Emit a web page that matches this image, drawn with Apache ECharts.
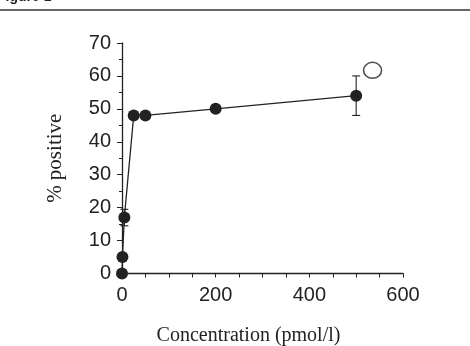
<!DOCTYPE html>
<html>
<head>
<meta charset="utf-8">
<script src="https://cdn.jsdelivr.net/npm/echarts@6/dist/echarts.min.js"></script>
<style>
  html, body { margin: 0; padding: 0; background: #fff; }
  #main { width: 470px; height: 346px; }
</style>
</head>
<body>
<div id="main"></div>
<script>
// concentration (pmol/l) and % positive
const concentration = [0, 1, 5, 25, 50, 200, 500];
const percentPositive = [0, 5, 17, 48, 48, 50, 54];
const errorSize = [0, 0, 2.5, 0, 0, 0, 6];
// open symbol top right
const openMarker = [[535, 61.7]];
const xTicks = [0, 200, 400, 600];
const yTicks = [0, 10, 20, 30, 40, 50, 60, 70];

const ink = "#222";
let chart = echarts.init(document.getElementById("main"));

let points = concentration.map((x, i) => [x, percentPositive[i]]);
let errData = concentration.map((x, i) => [x, percentPositive[i], errorSize[i]]).filter(d => d[2] > 0);

let option = {
  animation: false,
  grid: { left: 122, right: 67, top: 43, bottom: 72.5, outerBoundsMode: "none" },
  graphic: [
    {
      type: "text",
      left: -3,
      top: -10,
      style: { text: "Figure 1", font: "bold 14px 'Liberation Sans'", fill: "#222" }
    },
    {
      type: "line",
      shape: { x1: 0, y1: 10, x2: 470, y2: 10 },
      style: { stroke: "#333", lineWidth: 1.5 }
    }
  ],
  xAxis: {
    type: "value",
    min: 0,
    max: 600,
    interval: 50,
    name: "Concentration (pmol/l)",
    nameLocation: "middle",
    nameGap: 52,
    nameTextStyle: { fontFamily: "Liberation Serif", fontSize: 20, color: ink, padding: [0, 28, 0, 0] },
    axisLine: { lineStyle: { color: ink, width: 1.3 } },
    axisTick: { inside: false, length: 4, lineStyle: { color: ink, width: 1 } },
    axisLabel: {
      margin: 12,
      fontFamily: "Liberation Sans",
      fontSize: 20,
      color: ink,
      formatter: v => (xTicks.indexOf(v) >= 0 ? String(v) : "")
    },
    splitLine: { show: false }
  },
  yAxis: {
    type: "value",
    min: 0,
    max: 70,
    interval: 10,
    name: "% positive",
    nameLocation: "middle",
    nameGap: 56,
    nameTextStyle: { fontFamily: "Liberation Serif", fontSize: 21, color: ink },
    axisLine: { show: true, lineStyle: { color: ink, width: 1.3 } },
    axisTick: { show: true, length: 5, lineStyle: { color: ink, width: 1 } },
    minorTick: { show: true, splitNumber: 2, length: 3, lineStyle: { color: ink, width: 1 } },
    axisLabel: {
      margin: 11,
      fontFamily: "Liberation Sans",
      fontSize: 20,
      color: ink,
      formatter: v => (yTicks.indexOf(v) >= 0 ? String(v) : "")
    },
    splitLine: { show: false }
  },
  series: [
    {
      type: "custom",
      data: errData,
      z: 1,
      renderItem: function (params, api) {
        let x = api.value(0), y = api.value(1), e = api.value(2);
        let top = api.coord([x, y + e]);
        let bot = api.coord([x, y - e]);
        let c = 4;
        let s = { stroke: ink, lineWidth: 1.1 };
        return {
          type: "group",
          children: [
            { type: "line", shape: { x1: top[0], y1: top[1], x2: bot[0], y2: bot[1] }, style: s },
            { type: "line", shape: { x1: top[0] - c, y1: top[1], x2: top[0] + c, y2: top[1] }, style: s },
            { type: "line", shape: { x1: bot[0] - c, y1: bot[1], x2: bot[0] + c, y2: bot[1] }, style: s }
          ]
        };
      }
    },
    {
      type: "line",
      data: points,
      z: 3,
      symbol: "circle",
      symbolSize: 12,
      lineStyle: { color: ink, width: 1.3 },
      itemStyle: { color: ink, borderWidth: 0 }
    },
    {
      type: "scatter",
      data: openMarker,
      symbol: "circle",
      symbolSize: [18, 16],
      itemStyle: { color: "#fff", borderColor: ink, borderWidth: 1.5 }
    }
  ]
};

chart.setOption(option);
window.addEventListener("resize", chart.resize);
</script>
</body>
</html>
